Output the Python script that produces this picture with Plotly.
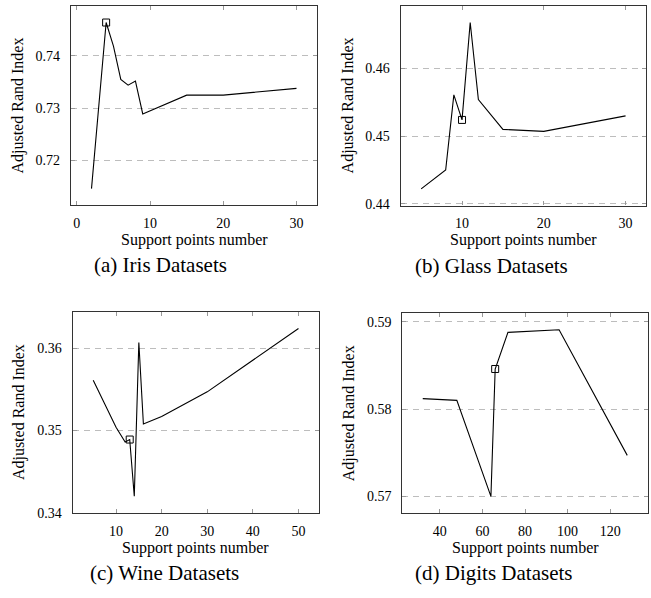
import plotly.graph_objects as go

# ---------------- data ----------------
iris_x = [2, 4, 5, 6, 7, 8, 9, 15, 20, 30]
iris_y = [0.7146, 0.7464, 0.7419, 0.7355, 0.7344, 0.7352, 0.7289, 0.7325, 0.7325, 0.7338]
iris_sel_x = [4]
iris_sel_y = [0.7464]

glass_x = [5, 8, 9, 10, 11, 12, 15, 20, 30]
glass_y = [0.4422, 0.4450, 0.4561, 0.4524, 0.4668, 0.4554, 0.4510, 0.4507, 0.4530]
glass_sel_x = [10]
glass_sel_y = [0.4524]

wine_x = [5, 10, 12, 13, 14, 15, 16, 20, 30, 50]
wine_y = [0.3561, 0.3504, 0.3486, 0.3489, 0.3420, 0.3607, 0.3508, 0.3517, 0.3547, 0.3624]
wine_sel_x = [13]
wine_sel_y = [0.3489]

digits_x = [32, 48, 64, 66, 72, 96, 128]
digits_y = [0.5812, 0.5810, 0.5700, 0.5846, 0.5888, 0.5891, 0.5747]
digits_sel_x = [66]
digits_sel_y = [0.5846]

iris_yticks = [0.72, 0.73, 0.74]
glass_yticks = [0.44, 0.45, 0.46]
wine_yticks = [0.34, 0.35, 0.36]
digits_yticks = [0.57, 0.58, 0.59]

iris_xticks = [0, 10, 20, 30]
glass_xticks = [10, 20, 30]
wine_xticks = [10, 20, 30, 40, 50]
digits_xticks = [40, 60, 80, 100, 120]

captions = ["(a) Iris Datasets", "(b) Glass Datasets", "(c) Wine Datasets", "(d) Digits Datasets"]
x_title = "Support points number"
y_title = "Adjusted Rand Index"

panels = [
    (iris_x, iris_y, iris_sel_x, iris_sel_y, iris_xticks, iris_yticks),
    (glass_x, glass_y, glass_sel_x, glass_sel_y, glass_xticks, glass_yticks),
    (wine_x, wine_y, wine_sel_x, wine_sel_y, wine_xticks, wine_yticks),
    (digits_x, digits_y, digits_sel_x, digits_sel_y, digits_xticks, digits_yticks),
]

W, H = 651, 598
# pixel boxes of plot areas: (left, right, top, bottom)
boxes = [(71, 317, 6, 208), (400.7, 646, 6, 208.3), (72.7, 319, 316, 520), (402.3, 647.7, 317.3, 520)]
caption_left = [92, 413, 88, 413]

FONT = "Liberation Serif"
fig = go.Figure()
layout = dict(width=W, height=H, margin=dict(l=0, r=0, t=0, b=0),
              paper_bgcolor="white", plot_bgcolor="white", showlegend=False,
              font=dict(family=FONT, color="black"))
annotations = []

def enlarge(vals, f=0.1):
    lo, hi = min(vals), max(vals)
    d = (hi - lo) * f
    return [lo - d, hi + d]

for i, (xs, ys, sx, sy, xt, yt) in enumerate(panels):
    n = "" if i == 0 else str(i + 1)
    xa, ya = "x" + n, "y" + n
    fig.add_trace(go.Scatter(x=xs, y=ys, mode="lines", line=dict(color="black", width=1.1),
                             xaxis=xa, yaxis=ya, hoverinfo="skip"))
    fig.add_trace(go.Scatter(x=sx, y=sy, mode="markers",
                             marker=dict(symbol="square-open", size=7, color="black", line=dict(width=1)),
                             xaxis=xa, yaxis=ya, hoverinfo="skip"))
    l, r, t, b = boxes[i]
    common = dict(showline=True, linecolor="#333", linewidth=1.2, mirror="allticks",
                  ticks="inside", ticklen=4, tickcolor="#999", tickwidth=1,
                  tickfont=dict(family=FONT, size=14, color="black"), zeroline=False)
    layout["xaxis" + n] = dict(domain=[l / W, r / W], range=enlarge(xs), tickvals=xt,
                               showgrid=False, anchor=ya, ticklabelstandoff=5, **common)
    layout["yaxis" + n] = dict(domain=[1 - b / H, 1 - t / H], range=enlarge(ys), tickvals=yt,
                               tickformat=".2f", showgrid=True, gridcolor="#bdbdbd",
                               griddash="6px,5px", gridwidth=1, anchor=xa,
                               ticklabelstandoff=7, **common)
    cx = (l + r) / 2
    annotations.append(dict(text=x_title, x=cx / W, y=1 - (b + 35) / H, xref="paper", yref="paper",
                            showarrow=False, font=dict(family=FONT, size=16), xanchor="center", yanchor="middle"))
    annotations.append(dict(text=y_title, x=(l - 53) / W, y=1 - ((t + b) / 2) / H, xref="paper", yref="paper",
                            showarrow=False, textangle=-90, font=dict(family=FONT, size=16),
                            xanchor="center", yanchor="middle"))
    annotations.append(dict(text=captions[i], x=caption_left[i] / W, y=1 - (b + 61) / H, xref="paper", yref="paper",
                            showarrow=False, font=dict(family=FONT, size=21), xanchor="left", yanchor="middle"))

layout["annotations"] = annotations
fig.update_layout(**layout)
fig.write_html("out.html", config={"displayModeBar": False},
               post_script="document.body.style.margin='0';document.body.style.overflow='hidden';")
